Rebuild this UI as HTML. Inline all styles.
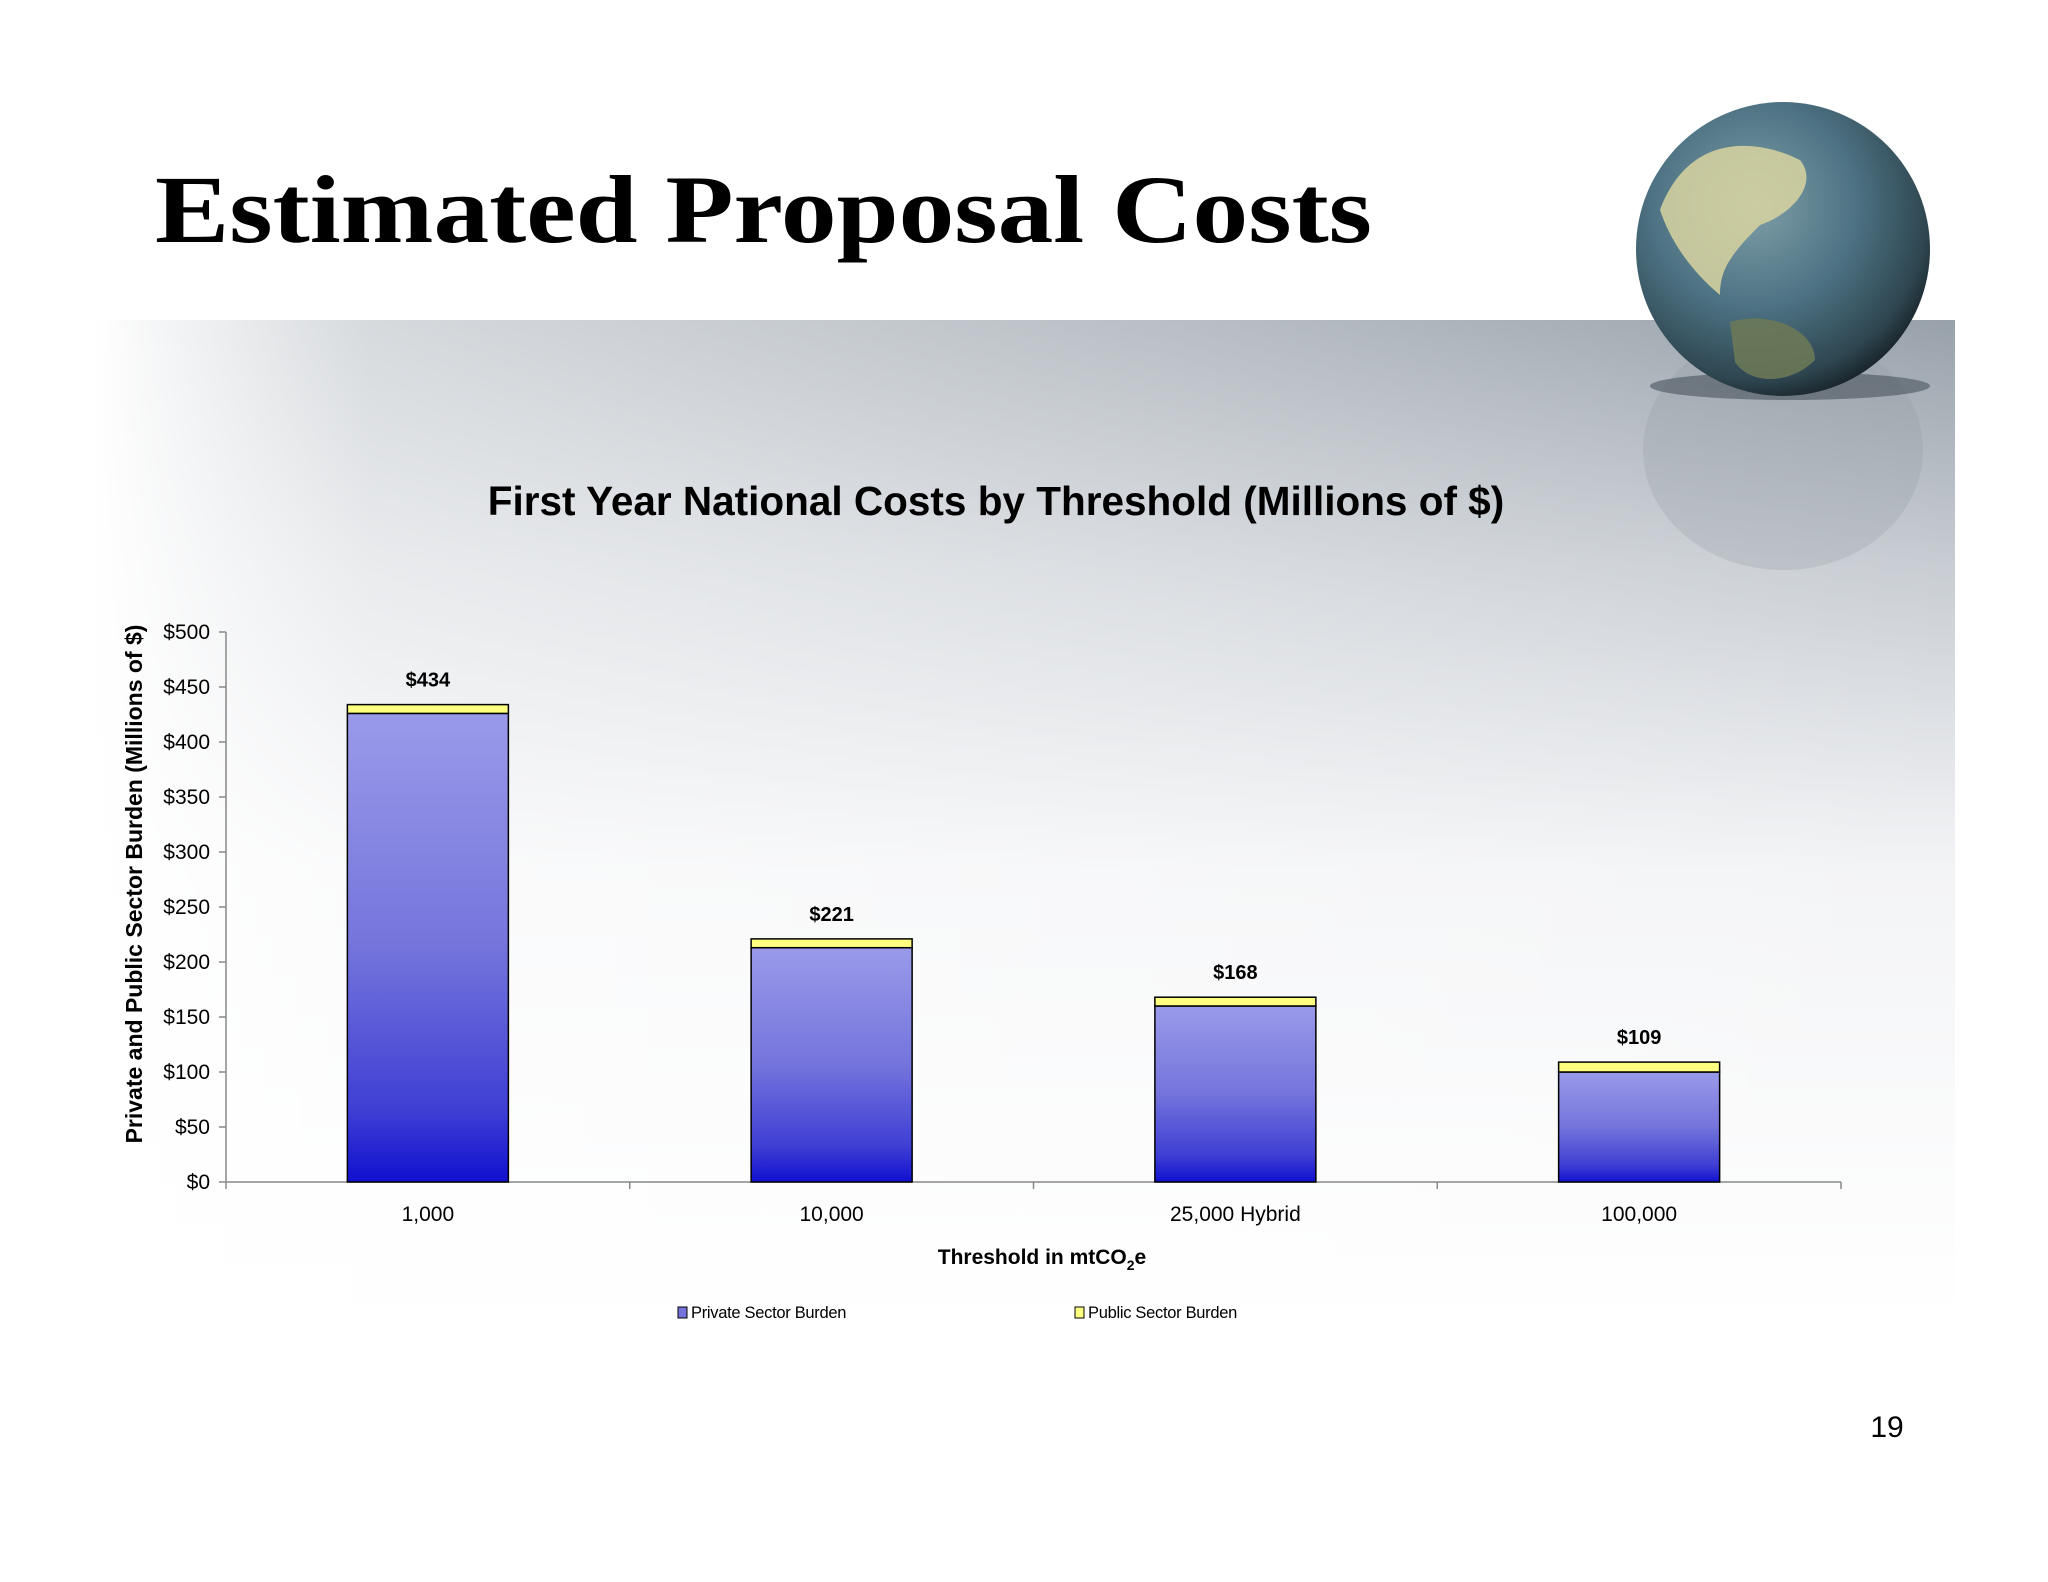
<!DOCTYPE html>
<html><head><meta charset="utf-8"><style>
body{margin:0;width:2048px;height:1582px;overflow:hidden;background:#fff;font-family:"Liberation Sans",sans-serif}
svg{display:block}
</style></head><body>
<svg id="s" width="2048" height="1582" viewBox="0 0 2048 1582">
<defs>
<linearGradient id="bandV" x1="0" y1="0" x2="0" y2="1">
<stop offset="0" stop-color="#98a1aa"/><stop offset="0.25" stop-color="#c9ced4"/><stop offset="0.55" stop-color="#f3f4f6"/><stop offset="1" stop-color="#ffffff"/></linearGradient>
<linearGradient id="bandH" x1="0" y1="0" x2="1" y2="0">
<stop offset="0" stop-color="#fff" stop-opacity="1"/><stop offset="0.15" stop-color="#fff" stop-opacity="0.6"/><stop offset="0.6" stop-color="#fff" stop-opacity="0.3"/><stop offset="1" stop-color="#fff" stop-opacity="0"/></linearGradient>
<linearGradient id="priv" x1="0" y1="0" x2="0" y2="1">
<stop offset="0" stop-color="#9a9aea"/><stop offset="0.5" stop-color="#7474dc"/><stop offset="0.85" stop-color="#3e3ed4"/><stop offset="1" stop-color="#1010d0"/></linearGradient>
<radialGradient id="globe" cx="0.4" cy="0.35" r="0.7">
<stop offset="0" stop-color="#7f9fa8"/><stop offset="0.5" stop-color="#4d7283"/><stop offset="0.85" stop-color="#2e4650"/><stop offset="1" stop-color="#151d22"/></radialGradient>
</defs>
<rect x="91" y="320" width="1864" height="1000" fill="url(#bandV)"/>
<rect x="91" y="320" width="1864" height="1000" fill="url(#bandH)"/>
<ellipse cx="1783" cy="450" rx="140" ry="120" fill="#8e969e" opacity="0.25"/>
<ellipse cx="1790" cy="386" rx="140" ry="14" fill="#4a545c" opacity="0.6"/>
<circle cx="1783" cy="249" r="147" fill="url(#globe)"/>
<path d="M1660 210 C1690 130 1760 140 1800 160 C1820 185 1790 215 1760 225 C1730 255 1720 270 1720 295 C1690 270 1670 240 1660 210Z" fill="#d8d3a0" opacity="0.85"/>
<path d="M1730 322 C1770 310 1815 330 1815 360 C1790 385 1750 385 1735 362Z" fill="#6f7a56" opacity="0.85"/>
<text x="155" y="242" textLength="1217" lengthAdjust="spacingAndGlyphs" font-family="'Liberation Serif',serif" font-weight="bold" font-size="96" fill="#000">Estimated Proposal Costs</text>
<text x="996" y="515" text-anchor="middle" font-weight="bold" font-size="40.5" fill="#000">First Year National Costs by Threshold (Millions of $)</text>
<text transform="translate(142,884) rotate(-90)" text-anchor="middle" font-weight="bold" font-size="23" fill="#000">Private and Public Sector Burden (Millions of $)</text>
<text x="1042" y="1264" text-anchor="middle" font-weight="bold" font-size="21" fill="#000">Threshold in mtCO<tspan font-size="14" dy="6">2</tspan><tspan dy="-6">e</tspan></text>
<g id="plot"></g>
<g>
<rect x="678" y="1307" width="9" height="11" fill="#7474dc" stroke="#000"/>
<text x="691" y="1318" font-size="16.5" letter-spacing="-0.3">Private Sector Burden</text>
<rect x="1075" y="1307" width="9" height="11" fill="#ffff80" stroke="#000"/>
<text x="1088" y="1318" font-size="16.5" letter-spacing="-0.3">Public Sector Burden</text>
</g>
<text x="1887" y="1437" text-anchor="middle" font-size="30">19</text>
</svg>
<script>
const categories=["1,000","10,000","25,000 Hybrid","100,000"];
const privateVals=[426,213,160,100];
const publicVals=[8,8,8,9];
const totalLabels=["$434","$221","$168","$109"];
const yTicks=[0,50,100,150,200,250,300,350,400,450,500];
const NS="http://www.w3.org/2000/svg";
const g=document.getElementById('plot');
const X0=226,X1=1841,Y0=1182,Y1=632,YMAX=500;
const y=v=>Y0-(v/YMAX)*(Y0-Y1);
const band=(X1-X0)/categories.length;
const xc=i=>X0+band*(i+0.5);
const BW=161;
function mk(t,a){const e=document.createElementNS(NS,t);for(const k in a)e.setAttribute(k,a[k]);g.appendChild(e);return e;}
let e=mk('line',{x1:X0,y1:Y1,x2:X0,y2:Y0,stroke:'#888','stroke-width':1.5});


e=mk('line',{x1:X0,y1:Y0,x2:X1,y2:Y0,stroke:'#888','stroke-width':1.5});


yTicks.forEach(v=>{
 mk('line',{x1:X0-7,y1:y(v),x2:X0,y2:y(v),stroke:'#888','stroke-width':1.5});
 const t=mk('text',{x:X0-16,y:y(v)+7,'text-anchor':'end','font-size':21});
 t.textContent='$'+v;
 
 
});
for(let i=0;i<=categories.length;i++){mk('line',{x1:X0+band*i,y1:Y0,x2:X0+band*i,y2:Y0+7,stroke:'#888','stroke-width':1.5});}
categories.forEach((c,i)=>{
 const cx=xc(i);
 const p=mk('rect',{x:cx-BW/2,y:y(privateVals[i]),width:BW,height:Y0-y(privateVals[i]),fill:'url(#priv)',stroke:'#000','stroke-width':1.5});
 
 
 const tot=privateVals[i]+publicVals[i];
 const q=mk('rect',{x:cx-BW/2,y:y(tot),width:BW,height:y(privateVals[i])-y(tot),fill:'#ffff80',stroke:'#000','stroke-width':1.5});
 
 
 const l=mk('text',{x:cx,y:y(tot)-18,'text-anchor':'middle','font-size':20,'font-weight':'bold'});
 l.textContent=totalLabels[i];
 
 
 const t=mk('text',{x:cx,y:1221,'text-anchor':'middle','font-size':21});
 t.textContent=c;
 
 
});
</script>
</body></html>
